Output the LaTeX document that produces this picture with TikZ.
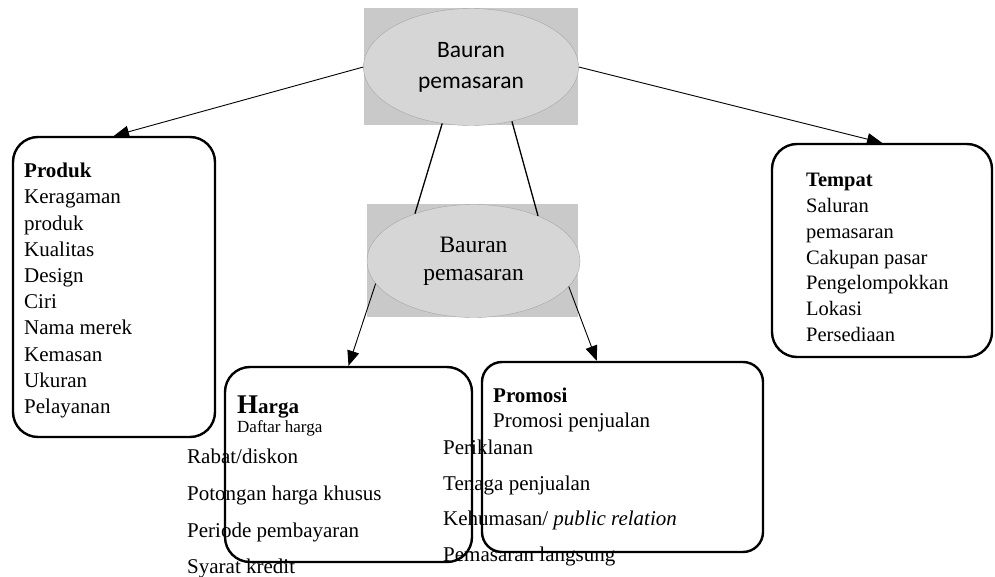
\documentclass[tikz,border=0pt]{standalone}
\usepackage{fontspec}
\setmainfont{Liberation Serif}
\newfontfamily\calibrifont{Carlito}
\usepackage{tikz}
\usetikzlibrary{shapes.geometric,arrows.meta}
\tikzset{
  backdrop/.style={rectangle, fill=black!21, inner sep=0pt},
  bauran/.style={ellipse, draw=black!35, fill=black!16, inner sep=0pt,
                 align=center},
  panel/.style={rectangle, rounded corners=25pt, draw=black,
                line width=2.4pt, inner sep=0pt},
  itemlist/.style={anchor=north west, inner sep=0pt, align=left},
  flow/.style={-{Triangle[length=15pt,width=12pt]}, line width=0.9pt},
  link/.style={line width=1.3pt},
}

\begin{document}
\begin{tikzpicture}[x=1pt, y=-1pt]
\useasboundingbox (0,0) rectangle (995,577);

%% Grey backdrops behind the two ellipses
\node[backdrop, minimum width=214pt, minimum height=117pt] (topbg) at (471,66.5) {};
\node[backdrop, minimum width=211pt, minimum height=113pt] (midbg) at (472.5,260.5) {};

%% Ellipses
\node[bauran, minimum width=215pt, minimum height=117pt,
      font=\calibrifont\fontsize{23.5}{31}\selectfont]
     (top) at (471,67) {Bauran\\pemasaran};
\node[bauran, minimum width=213pt, minimum height=113pt,
      font=\fontsize{23.5}{28}\selectfont]
     (mid) at (473.5,261) {Bauran\\pemasaran};

%% The four panels
\node[panel, minimum width=202pt, minimum height=300pt] (produk) at (114,287) {};
\node[panel, minimum width=220pt, minimum height=213pt] (tempat) at (882,250.5) {};
\node[panel, minimum width=247pt, minimum height=195pt] (harga) at (348.5,464.5) {};
\node[panel, rounded corners=20pt, minimum width=281pt, minimum height=190pt]
     (promosi) at (622.5,457) {};

%% Panel texts
\node[itemlist, font=\fontsize{21}{26.2}\selectfont] (produktxt) at (24,163)
     {\textbf{Produk}\\Keragaman\\produk\\Kualitas\\Design\\Ciri\\Nama merek\\Kemasan\\Ukuran\\Pelayanan};
\node[itemlist, font=\fontsize{20.5}{25.8}\selectfont] (tempattxt) at (806,173)
     {\textbf{Tempat}\\Saluran\\pemasaran\\Cakupan pasar\\Pengelompokkan\\Lokasi\\Persediaan};
\node[itemlist, font=\fontsize{21}{19}\selectfont] (hargahead) at (237,396)
     {\textbf{{\fontsize{27}{27}\selectfont H}arga}\\{\fontsize{17}{19}\selectfont Daftar harga}};
\node[itemlist, font=\fontsize{21}{36.7}\selectfont] (hargatxt) at (187,449)
     {Rabat/diskon\\Potongan harga khusus\\Periode pembayaran\\Syarat kredit};
\node[itemlist, font=\fontsize{21}{25}\selectfont] (promosihead) at (493,388)
     {\textbf{Promosi}\\Promosi penjualan};
\node[itemlist, font=\fontsize{21}{35.5}\selectfont] (promositxt) at (443,440)
     {Periklanan\\Tenaga penjualan\\Kehumasan/ \textit{public relation}\\Pemasaran langsung};

%% Connectors
\draw[flow] (top.west) -- (produk.north);
\draw[flow] (top.east) -- (tempat.north);
\draw[link] (top.243) -- (mid.141);
\draw[link] (top.307) -- (mid.35);
\draw[flow] (mid.193) -- (harga.north);
\draw[flow] (mid.345) -- (promosi.105);

\end{tikzpicture}
\end{document}
